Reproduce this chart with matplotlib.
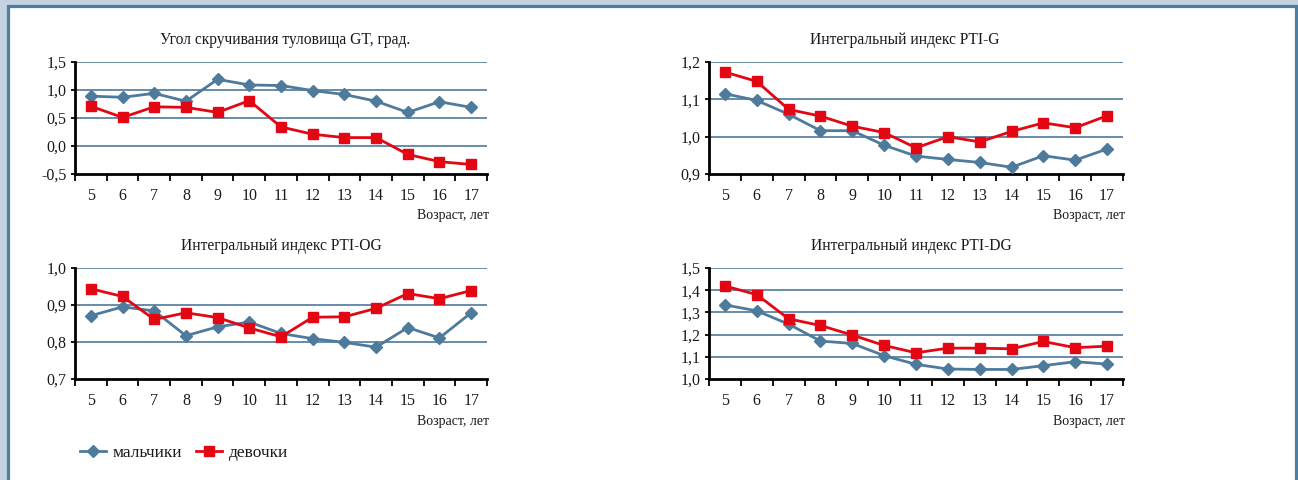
import matplotlib
matplotlib.use("Agg")
import matplotlib.pyplot as plt
from matplotlib.patches import Rectangle
from matplotlib.ticker import FixedLocator, FuncFormatter

plt.rcParams['font.family'] = ['Liberation Serif', 'DejaVu Serif']

# Data
ages = [5, 6, 7, 8, 9, 10, 11, 12, 13, 14, 15, 16, 17]

gt_boys = [0.89, 0.87, 0.94, 0.80, 1.19, 1.09, 1.08, 0.99, 0.92, 0.80, 0.60, 0.79, 0.69]
gt_girls = [0.71, 0.51, 0.70, 0.69, 0.60, 0.81, 0.34, 0.21, 0.15, 0.15, -0.15, -0.28, -0.33]

g_boys = [1.115, 1.097, 1.060, 1.016, 1.016, 0.977, 0.948, 0.939, 0.931, 0.918, 0.949, 0.937, 0.967]
g_girls = [1.173, 1.148, 1.073, 1.055, 1.028, 1.011, 0.970, 1.000, 0.986, 1.014, 1.037, 1.024, 1.056]

og_boys = [0.871, 0.895, 0.884, 0.817, 0.841, 0.854, 0.823, 0.809, 0.799, 0.786, 0.839, 0.811, 0.879]
og_girls = [0.944, 0.923, 0.861, 0.879, 0.866, 0.838, 0.814, 0.867, 0.868, 0.891, 0.931, 0.917, 0.939]

dg_boys = [1.334, 1.307, 1.247, 1.171, 1.160, 1.105, 1.066, 1.045, 1.043, 1.043, 1.060, 1.078, 1.067]
dg_girls = [1.419, 1.380, 1.271, 1.241, 1.198, 1.151, 1.118, 1.139, 1.139, 1.136, 1.169, 1.141, 1.148]

titles = ["Угол скручивания туловища GT, град.", "Интегральный индекс PTI-G",
          "Интегральный индекс PTI-OG", "Интегральный индекс PTI-DG"]
yticks_all = [[-0.5, 0.0, 0.5, 1.0, 1.5], [0.9, 1.0, 1.1, 1.2],
              [0.7, 0.8, 0.9, 1.0], [1.0, 1.1, 1.2, 1.3, 1.4, 1.5]]
series = [(gt_boys, gt_girls), (g_boys, g_girls), (og_boys, og_girls), (dg_boys, dg_girls)]

BLUE = "#4e7a9c"
RED = "#e30613"
GRID = "#5a82a3"
TXT = "#1a1a1a"

W, H = 1298, 480
fig = plt.figure(figsize=(W / 100, H / 100), dpi=100)
fig.patch.set_facecolor("#c5d2e1")
fig.patches.append(Rectangle((7.5 / W, -0.05), 1288 / W, 1.05 - 5.5 / H,
                             transform=fig.transFigure, facecolor="white",
                             edgecolor="#4f7ea3", linewidth=2.3, zorder=-5))

# axes boxes in pixels: left, right, top, bottom
boxes = [(75, 487, 62, 174), (709, 1123, 62, 174),
         (75, 487, 268, 379), (709, 1123, 268, 379)]
title_x = [285, 905, 281, 911]

comma = FuncFormatter(lambda v, p: f"{v:.1f}".replace(".", ","))

axes = []
for i, (l, r, t, b) in enumerate(boxes):
    ax = fig.add_axes([l / W, 1 - b / H, (r - l) / W, (b - t) / H])
    ax.set_facecolor("none")
    boys, girls = series[i]
    x = list(range(len(ages)))
    ax.plot(x, boys, color=BLUE, lw=2, marker="D", ms=6.5, label="мальчики", zorder=3)
    ax.plot(x, girls, color=RED, lw=2, marker="s", ms=7.5, label="девочки", zorder=4)
    yt = yticks_all[i]
    ax.set_ylim(yt[0], yt[-1])
    ax.set_xlim(-0.5, len(ages) - 0.5)
    ax.set_yticks(yt)
    ax.yaxis.set_major_formatter(comma)
    for v in yt[1:]:
        ax.axhline(v, color=GRID, lw=1.3, zorder=1)
    ax.xaxis.set_major_locator(FixedLocator(x))
    ax.set_xticklabels([str(a) for a in ages])
    ax.xaxis.set_minor_locator(FixedLocator([k - 0.5 for k in range(len(ages) + 1)]))
    ax.tick_params(axis="x", which="major", length=0, pad=10, labelsize=11.5, labelcolor=TXT)
    ax.tick_params(axis="x", which="minor", length=5, width=1.3, direction="out")
    ax.tick_params(axis="y", length=3, width=1.3, pad=3, labelsize=11.5, labelcolor=TXT)
    for s in ["top", "right"]:
        ax.spines[s].set_visible(False)
    ax.spines["left"].set_linewidth(2)
    ax.spines["bottom"].set_linewidth(2)
    fig.text((r + 2) / W, 1 - (b + 42) / H, "Возраст, лет", fontsize=10, color=TXT,
             ha="right", va="center")
    fig.text(title_x[i] / W, 1 - (t - 22) / H, titles[i], fontsize=11.2, color=TXT,
             ha="center", va="center")
    axes.append(ax)

handles, labels = axes[0].get_legend_handles_labels()
fig.legend(handles, labels, loc="center left", bbox_to_anchor=(80 / W, 1 - 453 / H),
           ncol=2, frameon=False, fontsize=12.5, handlelength=1.5, columnspacing=0.8,
           handletextpad=0.4, borderpad=0, borderaxespad=0, labelcolor=TXT)

fig.savefig("out.png", dpi=100, facecolor=fig.get_facecolor())
